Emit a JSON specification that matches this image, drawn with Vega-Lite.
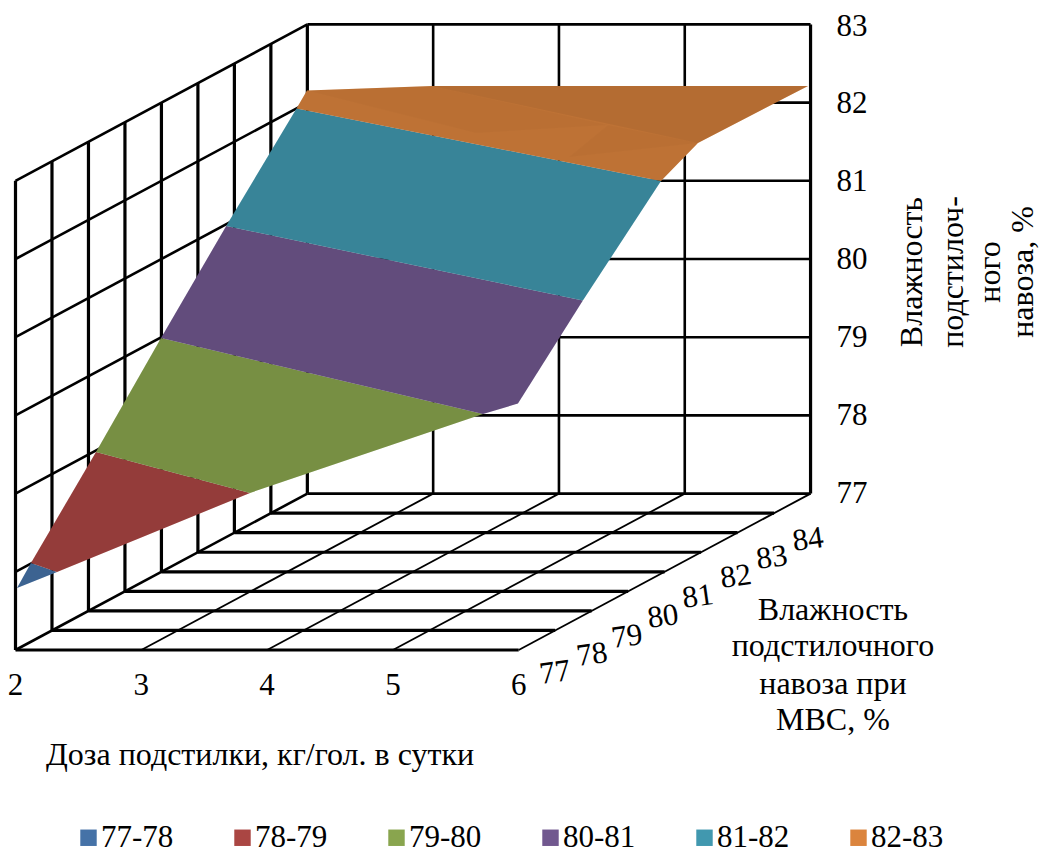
{
  "$schema": "https://vega.github.io/schema/vega-lite/v6.json",
  "width": 1040,
  "height": 853,
  "padding": 0,
  "autosize": {"type": "none"},
  "background": "white",
  "config": {"view": {"stroke": null}, "text": {"font": "Liberation Serif"}},
  "encoding": {
    "x": {"field": "u", "type": "quantitative", "axis": null, "scale": {"domain": [1.87679, 10.14388], "nice": false, "zero": false}},
    "y": {"field": "v", "type": "quantitative", "axis": null, "scale": {"domain": [74.40409, 85.31202], "nice": false, "zero": false}}
  },
  "datasets": {
    "grid": [
      {"path": "left-d0", "kind": "heavy", "n": 0, "u": 2, "v": 77}, {"path": "left-d0", "kind": "heavy", "n": 1, "u": 2, "v": 83},
      {"path": "left-d1", "kind": "heavy", "n": 0, "u": 2.29, "v": 77.25}, {"path": "left-d1", "kind": "heavy", "n": 1, "u": 2.29, "v": 83.25},
      {"path": "left-d2", "kind": "heavy", "n": 0, "u": 2.58, "v": 77.5}, {"path": "left-d2", "kind": "heavy", "n": 1, "u": 2.58, "v": 83.5},
      {"path": "left-d3", "kind": "heavy", "n": 0, "u": 2.87, "v": 77.75}, {"path": "left-d3", "kind": "heavy", "n": 1, "u": 2.87, "v": 83.75},
      {"path": "left-d4", "kind": "heavy", "n": 0, "u": 3.16, "v": 78}, {"path": "left-d4", "kind": "heavy", "n": 1, "u": 3.16, "v": 84},
      {"path": "left-d5", "kind": "heavy", "n": 0, "u": 3.45, "v": 78.25}, {"path": "left-d5", "kind": "heavy", "n": 1, "u": 3.45, "v": 84.25},
      {"path": "left-d6", "kind": "heavy", "n": 0, "u": 3.74, "v": 78.5}, {"path": "left-d6", "kind": "heavy", "n": 1, "u": 3.74, "v": 84.5},
      {"path": "left-d7", "kind": "heavy", "n": 0, "u": 4.03, "v": 78.75}, {"path": "left-d7", "kind": "heavy", "n": 1, "u": 4.03, "v": 84.75},
      {"path": "left-d8", "kind": "heavy", "n": 0, "u": 4.32, "v": 79}, {"path": "left-d8", "kind": "heavy", "n": 1, "u": 4.32, "v": 85},
      {"path": "floor-d0", "kind": "heavy", "n": 0, "u": 2, "v": 77}, {"path": "floor-d0", "kind": "heavy", "n": 1, "u": 6, "v": 77},
      {"path": "floor-d1", "kind": "heavy", "n": 0, "u": 2.29, "v": 77.25}, {"path": "floor-d1", "kind": "heavy", "n": 1, "u": 6.29, "v": 77.25},
      {"path": "floor-d2", "kind": "heavy", "n": 0, "u": 2.58, "v": 77.5}, {"path": "floor-d2", "kind": "heavy", "n": 1, "u": 6.58, "v": 77.5},
      {"path": "floor-d3", "kind": "heavy", "n": 0, "u": 2.87, "v": 77.75}, {"path": "floor-d3", "kind": "heavy", "n": 1, "u": 6.87, "v": 77.75},
      {"path": "floor-d4", "kind": "heavy", "n": 0, "u": 3.16, "v": 78}, {"path": "floor-d4", "kind": "heavy", "n": 1, "u": 7.16, "v": 78},
      {"path": "floor-d5", "kind": "heavy", "n": 0, "u": 3.45, "v": 78.25}, {"path": "floor-d5", "kind": "heavy", "n": 1, "u": 7.45, "v": 78.25},
      {"path": "floor-d6", "kind": "heavy", "n": 0, "u": 3.74, "v": 78.5}, {"path": "floor-d6", "kind": "heavy", "n": 1, "u": 7.74, "v": 78.5},
      {"path": "floor-d7", "kind": "heavy", "n": 0, "u": 4.03, "v": 78.75}, {"path": "floor-d7", "kind": "heavy", "n": 1, "u": 8.03, "v": 78.75},
      {"path": "back-r", "kind": "heavy", "n": 0, "u": 8.32, "v": 79}, {"path": "back-r", "kind": "heavy", "n": 1, "u": 8.32, "v": 85},

      {"path": "back-h77", "kind": "medium", "n": 0, "u": 4.32, "v": 79}, {"path": "back-h77", "kind": "medium", "n": 1, "u": 8.32, "v": 79},
      {"path": "back-h78", "kind": "medium", "n": 0, "u": 4.32, "v": 80}, {"path": "back-h78", "kind": "medium", "n": 1, "u": 8.32, "v": 80},
      {"path": "back-h79", "kind": "medium", "n": 0, "u": 4.32, "v": 81}, {"path": "back-h79", "kind": "medium", "n": 1, "u": 8.32, "v": 81},
      {"path": "back-h80", "kind": "medium", "n": 0, "u": 4.32, "v": 82}, {"path": "back-h80", "kind": "medium", "n": 1, "u": 8.32, "v": 82},
      {"path": "back-h81", "kind": "medium", "n": 0, "u": 4.32, "v": 83}, {"path": "back-h81", "kind": "medium", "n": 1, "u": 8.32, "v": 83},
      {"path": "back-h82", "kind": "medium", "n": 0, "u": 4.32, "v": 84}, {"path": "back-h82", "kind": "medium", "n": 1, "u": 8.32, "v": 84},
      {"path": "back-h83", "kind": "medium", "n": 0, "u": 4.32, "v": 85}, {"path": "back-h83", "kind": "medium", "n": 1, "u": 8.32, "v": 85},
      {"path": "back-v3", "kind": "medium", "n": 0, "u": 5.32, "v": 79}, {"path": "back-v3", "kind": "medium", "n": 1, "u": 5.32, "v": 85},
      {"path": "back-v4", "kind": "medium", "n": 0, "u": 6.32, "v": 79}, {"path": "back-v4", "kind": "medium", "n": 1, "u": 6.32, "v": 85},
      {"path": "back-v5", "kind": "medium", "n": 0, "u": 7.32, "v": 79}, {"path": "back-v5", "kind": "medium", "n": 1, "u": 7.32, "v": 85},
      {"path": "slant-77", "kind": "medium", "n": 0, "u": 2, "v": 77}, {"path": "slant-77", "kind": "medium", "n": 1, "u": 4.32, "v": 79},
      {"path": "slant-78", "kind": "medium", "n": 0, "u": 2, "v": 78}, {"path": "slant-78", "kind": "medium", "n": 1, "u": 4.32, "v": 80},
      {"path": "slant-79", "kind": "medium", "n": 0, "u": 2, "v": 79}, {"path": "slant-79", "kind": "medium", "n": 1, "u": 4.32, "v": 81},
      {"path": "slant-80", "kind": "medium", "n": 0, "u": 2, "v": 80}, {"path": "slant-80", "kind": "medium", "n": 1, "u": 4.32, "v": 82},
      {"path": "slant-81", "kind": "medium", "n": 0, "u": 2, "v": 81}, {"path": "slant-81", "kind": "medium", "n": 1, "u": 4.32, "v": 83},
      {"path": "slant-82", "kind": "medium", "n": 0, "u": 2, "v": 82}, {"path": "slant-82", "kind": "medium", "n": 1, "u": 4.32, "v": 84},
      {"path": "slant-83", "kind": "medium", "n": 0, "u": 2, "v": 83}, {"path": "slant-83", "kind": "medium", "n": 1, "u": 4.32, "v": 85},

      {"path": "floor-dose3", "kind": "light", "n": 0, "u": 3, "v": 77}, {"path": "floor-dose3", "kind": "light", "n": 1, "u": 5.32, "v": 79},
      {"path": "floor-dose4", "kind": "light", "n": 0, "u": 4, "v": 77}, {"path": "floor-dose4", "kind": "light", "n": 1, "u": 6.32, "v": 79},
      {"path": "floor-dose5", "kind": "light", "n": 0, "u": 5, "v": 77}, {"path": "floor-dose5", "kind": "light", "n": 1, "u": 7.32, "v": 79},
      {"path": "floor-dose6", "kind": "light", "n": 0, "u": 6, "v": 77}, {"path": "floor-dose6", "kind": "light", "n": 1, "u": 8.32, "v": 79}
    ],
    "bands": [
      {"band": "77-78", "n": 0, "u": 2.012, "v": 77.793}, {"band": "77-78", "n": 1, "u": 2.123, "v": 78.113}, {"band": "77-78", "n": 2, "u": 2.33, "v": 77.997},
      {"band": "78-79", "n": 0, "u": 2.123, "v": 78.113}, {"band": "78-79", "n": 1, "u": 2.64, "v": 79.532}, {"band": "78-79", "n": 2, "u": 3.864, "v": 79.008}, {"band": "78-79", "n": 3, "u": 2.33, "v": 77.997},
      {"band": "79-80", "n": 0, "u": 2.64, "v": 79.532}, {"band": "79-80", "n": 1, "u": 3.157, "v": 80.99}, {"band": "79-80", "n": 2, "u": 5.716, "v": 80.018}, {"band": "79-80", "n": 3, "u": 3.864, "v": 79.008},
      {"band": "80-81", "n": 0, "u": 3.157, "v": 80.99}, {"band": "80-81", "n": 1, "u": 3.675, "v": 82.422}, {"band": "80-81", "n": 2, "u": 6.51, "v": 81.469}, {"band": "80-81", "n": 3, "u": 5.994, "v": 80.152}, {"band": "80-81", "n": 4, "u": 5.716, "v": 80.018},
      {"band": "81-82", "n": 0, "u": 3.675, "v": 82.422}, {"band": "81-82", "n": 1, "u": 4.234, "v": 83.925}, {"band": "81-82", "n": 2, "u": 7.131, "v": 82.997}, {"band": "81-82", "n": 3, "u": 6.51, "v": 81.469},
      {"band": "82-83", "n": 0, "u": 4.234, "v": 83.925}, {"band": "82-83", "n": 1, "u": 4.317, "v": 84.155}, {"band": "82-83", "n": 2, "u": 5.311, "v": 84.212}, {"band": "82-83", "n": 3, "u": 8.3, "v": 84.212}, {"band": "82-83", "n": 4, "u": 7.425, "v": 83.483}, {"band": "82-83", "n": 5, "u": 7.131, "v": 82.997}
    ],
    "outline": [
      {"n": 0, "u": 2.012, "v": 77.793}, {"n": 1, "u": 2.33, "v": 77.997}, {"n": 2, "u": 3.864, "v": 79.008}, {"n": 3, "u": 5.716, "v": 80.018},
      {"n": 4, "u": 5.994, "v": 80.152}, {"n": 5, "u": 6.51, "v": 81.469}, {"n": 6, "u": 7.131, "v": 82.997}, {"n": 7, "u": 7.425, "v": 83.483},
      {"n": 8, "u": 8.3, "v": 84.212}, {"n": 9, "u": 5.311, "v": 84.212}, {"n": 10, "u": 4.317, "v": 84.155}, {"n": 11, "u": 4.234, "v": 83.925},
      {"n": 12, "u": 3.675, "v": 82.422}, {"n": 13, "u": 3.157, "v": 80.99}, {"n": 14, "u": 2.64, "v": 79.532}, {"n": 15, "u": 2.123, "v": 78.113}
    ],
    "upperFacet": [
      {"n": 0, "u": 5.311, "v": 84.212}, {"n": 1, "u": 8.3, "v": 84.212}, {"n": 2, "u": 7.425, "v": 83.483}
    ],
    "softFacets": [
      {"facet": "middle", "n": 0, "u": 4.317, "v": 84.155}, {"facet": "middle", "n": 1, "u": 5.311, "v": 84.212}, {"facet": "middle", "n": 2, "u": 6.71, "v": 83.714}, {"facet": "middle", "n": 3, "u": 5.661, "v": 83.611},
      {"facet": "right", "n": 0, "u": 6.71, "v": 83.714}, {"facet": "right", "n": 1, "u": 7.425, "v": 83.483}, {"facet": "right", "n": 2, "u": 6.4, "v": 83.304}
    ]
  },
  "layer": [
    {
      "data": {"name": "grid"},
      "transform": [{"filter": "datum.kind === 'light'"}],
      "mark": {"type": "line", "color": "black", "strokeWidth": 1.8},
      "encoding": {"detail": {"field": "path"}, "order": {"field": "n"}}
    },
    {
      "data": {"name": "grid"},
      "transform": [{"filter": "datum.kind === 'medium'"}],
      "mark": {"type": "line", "color": "black", "strokeWidth": 2.6},
      "encoding": {"detail": {"field": "path"}, "order": {"field": "n"}}
    },
    {
      "data": {"name": "grid"},
      "transform": [{"filter": "datum.kind === 'heavy'"}],
      "mark": {"type": "line", "color": "black", "strokeWidth": 3.2},
      "encoding": {"detail": {"field": "path"}, "order": {"field": "n"}}
    },
    {
      "data": {"name": "bands"},
      "mark": {"type": "line", "interpolate": "linear-closed", "stroke": null, "filled": true},
      "encoding": {
        "order": {"field": "n"},
        "fill": {
          "field": "band", "type": "nominal",
          "scale": {
            "domain": ["77-78", "78-79", "79-80", "80-81", "81-82", "82-83"],
            "range": ["#4572A7", "#AA4643", "#89A54E", "#71588F", "#4198AF", "#DB843D"]
          },
          "legend": {
            "title": null, "orient": "none", "direction": "horizontal", "columns": 6,
            "legendX": 73, "legendY": 822, "symbolType": "square", "symbolSize": 270,
            "symbolStrokeWidth": 0, "labelFont": "Liberation Serif", "labelFontSize": 31,
            "labelColor": "black", "labelOffset": -3, "columnPadding": 53, "labelLimit": 120
          }
        }
      }
    },
    {
      "data": {"name": "outline"},
      "mark": {"type": "line", "interpolate": "linear-closed", "stroke": null, "filled": true, "fill": "black", "fillOpacity": 0.13},
      "encoding": {"order": {"field": "n"}}
    },
    {
      "data": {"name": "upperFacet"},
      "mark": {"type": "line", "interpolate": "linear-closed", "stroke": null, "filled": true, "fill": "black", "fillOpacity": 0.05},
      "encoding": {"order": {"field": "n"}}
    },
    {
      "data": {"name": "softFacets"},
      "mark": {"type": "line", "interpolate": "linear-closed", "stroke": null, "filled": true, "fill": "black", "fillOpacity": 0.018},
      "encoding": {"order": {"field": "n"}, "detail": {"field": "facet"}}
    },
    {
      "data": {"values": [
        {"t": "2", "u": 2, "v": 76.54}, {"t": "3", "u": 3, "v": 76.54}, {"t": "4", "u": 4, "v": 76.54}, {"t": "5", "u": 5, "v": 76.54}, {"t": "6", "u": 6, "v": 76.54},
        {"t": "83", "u": 8.649, "v": 84.967}, {"t": "82", "u": 8.649, "v": 83.982}, {"t": "81", "u": 8.649, "v": 82.985}, {"t": "80", "u": 8.649, "v": 81.987},
        {"t": "79", "u": 8.649, "v": 80.99}, {"t": "78", "u": 8.649, "v": 79.992}, {"t": "77", "u": 8.649, "v": 78.995}
      ]},
      "mark": {"type": "text", "font": "Liberation Serif", "fontSize": 31, "color": "black", "align": "center", "baseline": "middle"},
      "encoding": {"text": {"field": "t"}}
    },
    {
      "data": {"values": [
        {"t": "Доза подстилки, кг/гол. в сутки", "u": 3.944, "v": 75.657},
        {"t": "Влажность", "u": 8.498, "v": 77.512}, {"t": "подстилочного", "u": 8.498, "v": 77.051},
        {"t": "навоза при", "u": 8.498, "v": 76.565}, {"t": "МВС, %", "u": 8.498, "v": 76.105}
      ]},
      "mark": {"type": "text", "font": "Liberation Serif", "fontSize": 32, "color": "black", "align": "center", "baseline": "middle"},
      "encoding": {"text": {"field": "t"}}
    },
    {
      "data": {"values": [
        {"t": "77", "u": 6.289, "v": 76.706}, {"t": "78", "u": 6.583, "v": 76.936}, {"t": "79", "u": 6.861, "v": 77.166}, {"t": "80", "u": 7.147, "v": 77.422},
        {"t": "81", "u": 7.425, "v": 77.678}, {"t": "82", "u": 7.727, "v": 77.933}, {"t": "83", "u": 8.013, "v": 78.176}, {"t": "84", "u": 8.3, "v": 78.407}
      ]},
      "mark": {"type": "text", "font": "Liberation Serif", "fontSize": 31, "color": "black", "align": "center", "baseline": "middle", "angle": 352},
      "encoding": {"text": {"field": "t"}}
    },
    {
      "data": {"values": [
        {"t": "Влажность", "u": 9.126, "v": 81.834}, {"t": "подстилоч-", "u": 9.452, "v": 81.834},
        {"t": "ного", "u": 9.746, "v": 81.834}, {"t": "навоза, %", "u": 10.005, "v": 81.834}
      ]},
      "mark": {"type": "text", "font": "Liberation Serif", "fontSize": 32, "color": "black", "align": "center", "baseline": "middle", "angle": 270},
      "encoding": {"text": {"field": "t"}}
    }
  ]
}
